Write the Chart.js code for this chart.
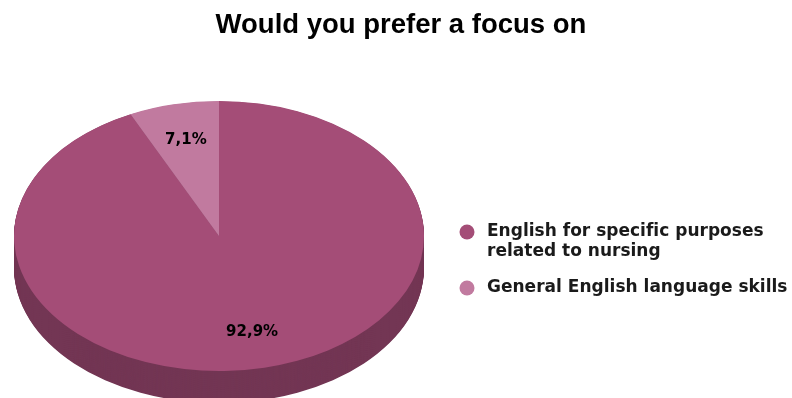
<!DOCTYPE html>
<html>
<head>
<meta charset="utf-8">
<script src="https://cdn.jsdelivr.net/npm/chart.js@4.4.1/dist/chart.umd.min.js"></script>
<style>
  html, body { margin: 0; padding: 0; background: #fff; }
  #chart { display: block; }
</style>
</head>
<body>
<canvas id="chart" width="792" height="398"></canvas>
<script>
// Data
const categories = ["English for specific purposes related to nursing", "General English language skills"];
const legendLines = [["English for specific purposes", "related to nursing"], ["General English language skills"]];
const shares = [92.9, 7.1];

const topColors = ["#a44d77", "#c17a9f"];
const sideColors = ["#733654", "#8e5373"];

// Fake 3D: squash the pie vertically and paint a darker rim under it
const pie3d = {
    id: "pie3d",
    beforeDatasetsDraw(chart, args, opts) {
        const ctx = chart.ctx;
        const arcs = chart.getDatasetMeta(0).data;
        const cx = arcs[0].x, cy = arcs[0].y, r = arcs[0].outerRadius;
        const depth = opts.depth / opts.tilt;
        ctx.save();
        ctx.translate(cx + opts.shiftX, cy);
        ctx.scale(1, opts.tilt);
        ctx.translate(-cx, -cy);
        for (let k = depth; k > 0; k -= 1) {
            arcs.forEach((arc, i) => {
                ctx.beginPath();
                ctx.moveTo(cx, cy + k);
                ctx.arc(cx, cy + k, r, arc.startAngle, arc.endAngle);
                ctx.closePath();
                ctx.fillStyle = sideColors[i];
                ctx.fill();
            });
        }
    },
    afterDatasetsDraw(chart, args, opts) {
        const ctx = chart.ctx;
        ctx.restore();
        const arcs = chart.getDatasetMeta(0).data;
        const values = chart.data.datasets[0].data;
        ctx.save();
        ctx.font = "bold 15px 'DejaVu Sans', sans-serif";
        ctx.fillStyle = "#000";
        ctx.textAlign = "center";
        ctx.textBaseline = "middle";
        arcs.forEach((arc, i) => {
            const mid = (arc.startAngle + arc.endAngle) / 2;
            const x = arc.x + opts.shiftX + Math.cos(mid) * arc.outerRadius * opts.labelPos;
            const y = arc.y + Math.sin(mid) * arc.outerRadius * opts.tilt * opts.labelPos;
            ctx.fillText(values[i].toFixed(1).replace(".", ",") + "%", x, y);
        });
        ctx.restore();
    }
};

// Legend on the right, with a wrapped first label
const sideLegend = {
    id: "sideLegend",
    afterDraw(chart, args, opts) {
        const ctx = chart.ctx;
        const colors = chart.data.datasets[0].backgroundColor;
        ctx.save();
        ctx.font = "bold 17px 'DejaVu Sans', sans-serif";
        ctx.letterSpacing = "0.01px"; // keeps "fi" from turning into a ligature
        ctx.textBaseline = "middle";
        ctx.textAlign = "left";
        let y = opts.top;
        legendLines.forEach((lines, i) => {
            ctx.beginPath();
            ctx.arc(opts.left, y, opts.dot, 0, Math.PI * 2);
            ctx.fillStyle = colors[i];
            ctx.fill();
            ctx.fillStyle = "#1a1a1a";
            lines.forEach((line, j) => {
                ctx.fillText(line, opts.left + opts.textGap, y + j * opts.lineHeight);
            });
            y += (lines.length - 1) * opts.lineHeight + opts.itemGap;
        });
        ctx.restore();
    }
};

new Chart(document.getElementById("chart"), {
    type: "pie",
    data: {
        labels: categories,
        datasets: [{
            data: shares,
            backgroundColor: topColors,
            borderWidth: 0,
            radius: 205,
            clip: false
        }]
    },
    options: {
        responsive: false,
        animation: false,
        devicePixelRatio: 1,
        events: [],
        layout: { padding: { left: 10 } },
        plugins: {
            legend: { display: false },
            tooltip: { enabled: false },
            title: {
                display: true,
                text: "Would you prefer a focus on",
                color: "#000",
                font: { family: "'Liberation Sans', Arial, sans-serif", size: 27.5, weight: "bold" },
                padding: { top: 9, bottom: 32 }
            },
            pie3d: { tilt: 135 / 205, depth: 32, shiftX: -182, labelPos: 0.73 },
            sideLegend: { left: 467, top: 232, dot: 7.5, textGap: 20, lineHeight: 20, itemGap: 36 }
        }
    },
    plugins: [pie3d, sideLegend]
});
</script>
</body>
</html>
